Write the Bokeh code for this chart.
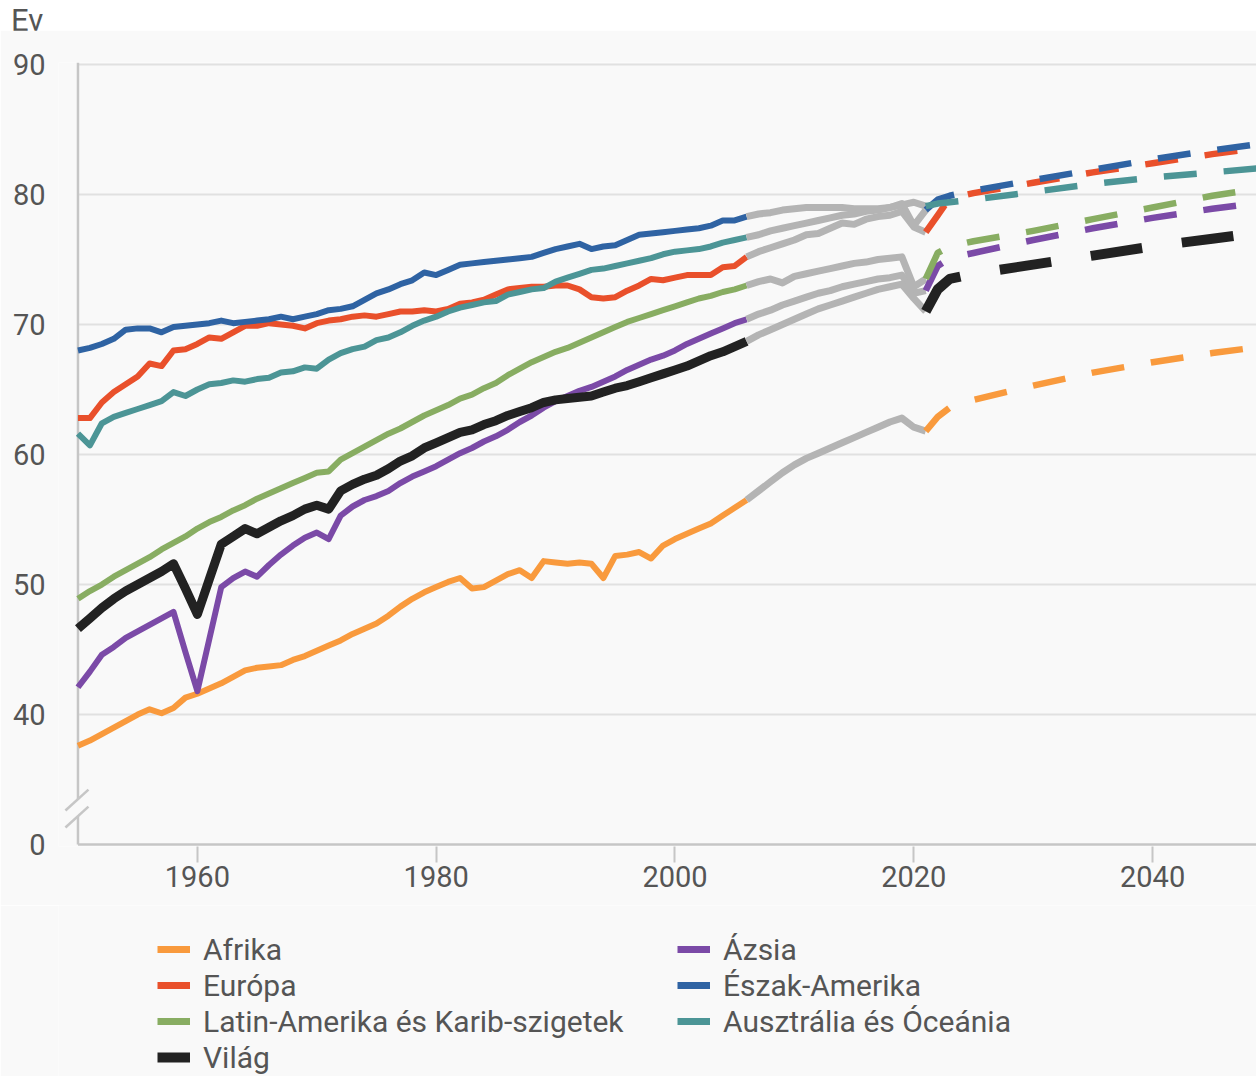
from bokeh.plotting import figure
from bokeh.models import Range1d, FixedTicker, Legend, LegendItem, Div
from bokeh.layouts import column
from bokeh.embed import file_html
from bokeh.resources import INLINE

# ---------------- data ----------------
YEARS = list(range(1950, 2022))           # observed (annual)
HIST_SPLIT = 2006                          # colored until here, grey afterwards
PROJ_YEARS = [2021, 2022, 2023, 2025, 2030, 2035, 2040, 2045, 2050]
X_TICKS = [1960, 1980, 2000, 2020, 2040]
Y_TICKS = [30, 40, 50, 60, 70, 80, 90]
Y_TICK_LABELS = {30: "0"}
Y_LABEL = "Ev"

afrika = [37.6, 38.0, 38.5, 39.0, 39.5, 40.0, 40.4, 40.1, 40.5, 41.3,
          41.6, 42.0, 42.4, 42.9, 43.4, 43.6, 43.7, 43.8, 44.2, 44.5,
          44.9, 45.3, 45.7, 46.2, 46.6, 47.0, 47.6, 48.3, 48.9, 49.4,
          49.8, 50.2, 50.5, 49.7, 49.8, 50.3, 50.8, 51.1, 50.5, 51.8,
          51.7, 51.6, 51.7, 51.6, 50.5, 52.2, 52.3, 52.5, 52.0, 53.0,
          53.5, 53.9, 54.3, 54.7, 55.3, 55.9, 56.5, 57.2, 57.9, 58.6,
          59.2, 59.7, 60.1, 60.5, 60.9, 61.3, 61.7, 62.1, 62.5, 62.8,
          62.1, 61.8]
azsia = [42.1, 43.3, 44.6, 45.2, 45.9, 46.4, 46.9, 47.4, 47.9, 44.8,
         41.8, 45.8, 49.8, 50.5, 51.0, 50.6, 51.5, 52.3, 53.0, 53.6,
         54.0, 53.5, 55.3, 56.0, 56.5, 56.8, 57.2, 57.8, 58.3, 58.7,
         59.1, 59.6, 60.1, 60.5, 61.0, 61.4, 61.9, 62.5, 63.0, 63.6,
         64.1, 64.5, 64.9, 65.2, 65.6, 66.0, 66.5, 66.9, 67.3, 67.6,
         68.0, 68.5, 68.9, 69.3, 69.7, 70.1, 70.4, 70.8, 71.1, 71.5,
         71.8, 72.1, 72.4, 72.6, 72.9, 73.1, 73.3, 73.5, 73.6, 73.8,
         72.4, 72.6]
europa = [62.8, 62.8, 64.0, 64.8, 65.4, 66.0, 67.0, 66.8, 68.0, 68.1,
          68.5, 69.0, 68.9, 69.4, 69.9, 69.9, 70.1, 70.0, 69.9, 69.7,
          70.1, 70.3, 70.4, 70.6, 70.7, 70.6, 70.8, 71.0, 71.0, 71.1,
          71.0, 71.2, 71.6, 71.7, 71.9, 72.3, 72.7, 72.8, 72.9, 72.9,
          73.0, 73.0, 72.7, 72.1, 72.0, 72.1, 72.6, 73.0, 73.5, 73.4,
          73.6, 73.8, 73.8, 73.8, 74.4, 74.5, 75.2, 75.6, 75.9, 76.2,
          76.5, 76.9, 77.0, 77.4, 77.8, 77.7, 78.1, 78.3, 78.4, 78.7,
          77.5, 77.1]
eszak_amerika = [68.0, 68.2, 68.5, 68.9, 69.6, 69.7, 69.7, 69.4, 69.8, 69.9,
                 70.0, 70.1, 70.3, 70.1, 70.2, 70.3, 70.4, 70.6, 70.4, 70.6,
                 70.8, 71.1, 71.2, 71.4, 71.9, 72.4, 72.7, 73.1, 73.4, 74.0,
                 73.8, 74.2, 74.6, 74.7, 74.8, 74.9, 75.0, 75.1, 75.2, 75.5,
                 75.8, 76.0, 76.2, 75.8, 76.0, 76.1, 76.5, 76.9, 77.0, 77.1,
                 77.2, 77.3, 77.4, 77.6, 78.0, 78.0, 78.3, 78.5, 78.6, 78.8,
                 78.9, 79.0, 79.0, 79.0, 79.0, 78.9, 78.9, 78.9, 79.0, 79.3,
                 77.6, 78.8]
latin = [48.9, 49.5, 50.0, 50.6, 51.1, 51.6, 52.1, 52.7, 53.2, 53.7,
         54.3, 54.8, 55.2, 55.7, 56.1, 56.6, 57.0, 57.4, 57.8, 58.2,
         58.6, 58.7, 59.6, 60.1, 60.6, 61.1, 61.6, 62.0, 62.5, 63.0,
         63.4, 63.8, 64.3, 64.6, 65.1, 65.5, 66.1, 66.6, 67.1, 67.5,
         67.9, 68.2, 68.6, 69.0, 69.4, 69.8, 70.2, 70.5, 70.8, 71.1,
         71.4, 71.7, 72.0, 72.2, 72.5, 72.7, 73.0, 73.3, 73.5, 73.2,
         73.7, 73.9, 74.1, 74.3, 74.5, 74.7, 74.8, 75.0, 75.1, 75.2,
         72.9, 73.5]
ausztralia = [61.6, 60.7, 62.4, 62.9, 63.2, 63.5, 63.8, 64.1, 64.8, 64.5,
              65.0, 65.4, 65.5, 65.7, 65.6, 65.8, 65.9, 66.3, 66.4, 66.7,
              66.6, 67.3, 67.8, 68.1, 68.3, 68.8, 69.0, 69.4, 69.9, 70.3,
              70.6, 71.0, 71.3, 71.5, 71.7, 71.8, 72.3, 72.5, 72.7, 72.8,
              73.3, 73.6, 73.9, 74.2, 74.3, 74.5, 74.7, 74.9, 75.1, 75.4,
              75.6, 75.7, 75.8, 76.0, 76.3, 76.5, 76.7, 76.9, 77.2, 77.4,
              77.6, 77.8, 78.0, 78.2, 78.4, 78.5, 78.7, 78.8, 79.0, 79.2,
              79.4, 79.1]
vilag = [46.6, 47.4, 48.2, 48.9, 49.5, 50.0, 50.5, 51.0, 51.6, 49.7,
         47.7, 50.4, 53.1, 53.7, 54.3, 53.9, 54.4, 54.9, 55.3, 55.8,
         56.1, 55.8, 57.2, 57.7, 58.1, 58.4, 58.9, 59.5, 59.9, 60.5,
         60.9, 61.3, 61.7, 61.9, 62.3, 62.6, 63.0, 63.3, 63.6, 64.0,
         64.2, 64.3, 64.4, 64.5, 64.8, 65.1, 65.3, 65.6, 65.9, 66.2,
         66.5, 66.8, 67.2, 67.6, 67.9, 68.3, 68.7, 69.2, 69.6, 70.0,
         70.4, 70.8, 71.2, 71.5, 71.8, 72.1, 72.4, 72.7, 72.9, 73.1,
         72.0, 71.0]

afrika_proj = [61.8, 62.9, 63.6, 64.2, 65.3, 66.3, 67.1, 67.8, 68.4]
azsia_proj = [72.6, 74.5, 75.1, 75.5, 76.5, 77.4, 78.2, 78.9, 79.5]
europa_proj = [77.1, 78.4, 79.7, 80.1, 80.9, 81.7, 82.4, 83.1, 83.7]
eszak_amerika_proj = [78.8, 79.6, 79.9, 80.3, 81.1, 81.9, 82.7, 83.4, 84.0]
latin_proj = [73.5, 75.5, 76.0, 76.4, 77.2, 78.1, 79.0, 79.9, 80.6]
ausztralia_proj = [79.1, 79.3, 79.4, 79.6, 80.2, 80.8, 81.3, 81.7, 82.1]
vilag_proj = [71.0, 72.7, 73.5, 73.9, 74.6, 75.3, 76.0, 76.6, 77.2]

NAMES = ["Afrika", "Ázsia", "Európa", "Észak-Amerika",
         "Latin-Amerika és Karib-szigetek", "Ausztrália és Óceánia", "Világ"]
HIST = [afrika, azsia, europa, eszak_amerika, latin, ausztralia, vilag]
PROJ = [afrika_proj, azsia_proj, europa_proj, eszak_amerika_proj,
        latin_proj, ausztralia_proj, vilag_proj]

# ---------------- styles ----------------
COLORS = ["#f99a3d", "#7b4aa7", "#e9502b", "#2f63a3", "#88ad62", "#4c9596", "#222222"]
WIDTHS = [6, 6, 6, 6, 6, 6, 9]
PROJ_WIDTHS = [6.5, 6.5, 6.5, 6.5, 6.5, 6.5, 10]
DASHES = ["33 27"] * 6 + ["52 40"]
GREY = "#b4b4b4"
BG = "#f9f9f9"
TEXT = "#555555"
AXIS = "#c6c6c6"
GRID = "#e1e1e1"
FONT = "Roboto"
W = 1256

p = figure(width=W, height=875,
           x_range=Range1d(1948.37, 2048.70), y_range=Range1d(29.85, 90.15),
           output_backend="svg", toolbar_location=None,
           min_border_left=58, min_border_right=0, min_border_top=32,
           min_border_bottom=59,
           background_fill_color=BG, border_fill_color=BG,
           outline_line_color=None)
p.xgrid.visible = False
p.ygrid.visible = False

# grid lines (start at the y axis)
for gy in Y_TICKS[1:]:
    p.segment(x0=[1950], x1=[2060], y0=[gy], y1=[gy], line_color=GRID, line_width=2)

# axis lines with break
p.segment(x0=[1950], x1=[2060], y0=[30], y1=[30], line_color=AXIS, line_width=2.5)
p.segment(x0=[1950, 1950], x1=[1950, 1950], y0=[30, 33.5], y1=[32.2, 90.15],
          line_color=AXIS, line_width=2.5)
p.segment(x0=[1948.95, 1948.95], x1=[1950.88, 1950.88], y0=[32.62, 31.31], y1=[34.23, 32.92],
          line_color=AXIS, line_width=2.5)

split = YEARS.index(HIST_SPLIT)
for hist, color, w in zip(HIST, COLORS, WIDTHS):
    p.line(YEARS[:split + 1], hist[:split + 1], line_color=color, line_width=w,
           line_join="round")
for hist in HIST:
    p.line(YEARS[split:], hist[split:], line_color=GREY, line_width=7, line_join="round")
for proj, color, w, d in zip(PROJ, COLORS, PROJ_WIDTHS, DASHES):
    p.line(PROJ_YEARS, proj, line_color=color, line_width=w, line_dash=d,
           line_join="round")

# axes
p.xaxis.ticker = FixedTicker(ticks=X_TICKS)
p.xaxis.axis_line_color = None
p.xaxis.major_tick_out = 16
p.xaxis.major_tick_in = 0
p.xaxis.major_tick_line_color = AXIS
p.xaxis.major_tick_line_width = 2
p.xaxis.minor_tick_line_color = None
p.xaxis.major_label_standoff = 3
p.xaxis.major_label_text_font = FONT
p.xaxis.major_label_text_font_size = "29px"
p.xaxis.major_label_text_color = TEXT

p.yaxis.ticker = FixedTicker(ticks=Y_TICKS)
p.yaxis.major_label_overrides = Y_TICK_LABELS
p.yaxis.axis_line_color = None
p.yaxis.major_tick_line_color = None
p.yaxis.minor_tick_line_color = None
p.yaxis.major_tick_out = 0
p.yaxis.major_label_standoff = 13
p.yaxis.major_label_text_font = FONT
p.yaxis.major_label_text_font_size = "29px"
p.yaxis.major_label_text_color = TEXT

# legend in its own strip below the chart
lg = figure(width=W, height=171, x_range=Range1d(0, 1), y_range=Range1d(0, 1),
            x_axis_type=None, y_axis_type=None,
            output_backend="svg", toolbar_location=None,
            min_border_left=58, min_border_right=0, min_border_top=0,
            min_border_bottom=0,
            background_fill_color=BG, border_fill_color=BG,
            outline_line_color=None)
lg.xgrid.visible = False
lg.ygrid.visible = False
# swatch renderers: data lies outside the (0..1) view, only their legend glyphs show
swatches = [lg.line([5, 6], [5, 6], line_color=c, line_width=w + 1)
            for c, w in zip(COLORS, WIDTHS)]
order = [0, 2, 4, 6, 1, 3, 5]
legend = Legend(items=[LegendItem(label=NAMES[i], renderers=[swatches[i]]) for i in order],
                location=(99, 1), ncols=2,
                label_text_font=FONT, label_text_font_size="30px",
                label_text_color=TEXT, glyph_width=33, glyph_height=36,
                label_height=36, label_width=474, label_standoff=13, spacing=0,
                padding=0, margin=0, border_line_alpha=0, background_fill_alpha=0)
lg.add_layout(legend)

top = Div(text='<span style="position:relative; top:6px; left:6px">' + Y_LABEL + '</span>',
          width=W, height=20,
          styles={"background-color": "white", "font-family": FONT,
                  "font-size": "31px", "color": TEXT, "line-height": "20px"})

layout = column(top, p, lg, spacing=0)
open("out.html", "w").write(file_html(layout, INLINE))
